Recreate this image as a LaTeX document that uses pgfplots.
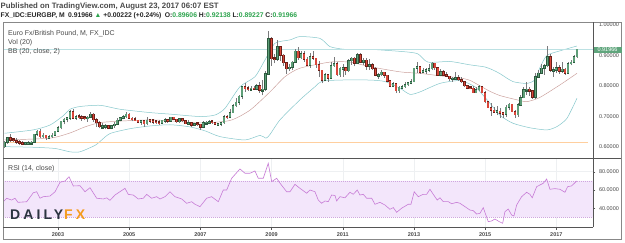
\documentclass[border=0pt]{standalone}
\usepackage{fontspec}
\setmainfont{Liberation Sans}
\usepackage{pgfplots}
\pgfplotsset{compat=1.18}
\usepgfplotslibrary{fillbetween}
\usepackage{pgfplotstable}
\definecolor{upfill}{HTML}{5E9E78}
\definecolor{upline}{HTML}{2C5A3E}
\definecolor{dnfill}{HTML}{D9473A}
\definecolor{dnline}{HTML}{6A2018}
\definecolor{wick}{HTML}{7A7A7C}
\definecolor{bbband}{HTML}{86C8CC}
\definecolor{bbfill}{HTML}{E3F2F3}
\definecolor{bbmid}{HTML}{C99C98}
\definecolor{rsiline}{HTML}{C77BD6}
\definecolor{rsifill}{HTML}{F3E6FB}
\definecolor{rsiedge}{HTML}{CFA6DE}
\definecolor{gridc}{HTML}{EEF0F2}
\definecolor{framec}{HTML}{555555}
\definecolor{txt}{HTML}{4A4A4A}
\definecolor{pricegreen}{HTML}{5FA57C}
\definecolor{hdrgreen}{HTML}{2DA44E}
\definecolor{dfxnavy}{HTML}{2B3440}
\definecolor{dfxorange}{HTML}{F39C1F}
\definecolor{levelorange}{HTML}{FFCF9E}

\pgfplotstableread{
x o h l c
2001.5000 0.6000 0.6190 0.5960 0.6140
2001.5833 0.6140 0.6330 0.6100 0.6300
2001.6667 0.6300 0.6400 0.6150 0.6220
2001.7500 0.6220 0.6290 0.6160 0.6200
2001.8333 0.6200 0.6270 0.6100 0.6150
2001.9167 0.6150 0.6220 0.6050 0.6120
2002.0000 0.6120 0.6200 0.6050 0.6080
2002.0833 0.6080 0.6160 0.6040 0.6120
2002.1667 0.6120 0.6180 0.6080 0.6130
2002.2500 0.6130 0.6190 0.6060 0.6150
2002.3333 0.6150 0.6430 0.6120 0.6400
2002.4167 0.6400 0.6560 0.6350 0.6500
2002.5000 0.6500 0.6580 0.6290 0.6320
2002.5833 0.6320 0.6440 0.6290 0.6380
2002.6667 0.6380 0.6390 0.6220 0.6300
2002.7500 0.6300 0.6380 0.6250 0.6330
2002.8333 0.6330 0.6450 0.6300 0.6380
2002.9167 0.6380 0.6530 0.6350 0.6510
2003.0000 0.6510 0.6670 0.6480 0.6620
2003.0833 0.6620 0.6850 0.6570 0.6830
2003.1667 0.6830 0.6950 0.6730 0.6900
2003.2500 0.6900 0.6960 0.6800 0.6930
2003.3333 0.6930 0.7220 0.6880 0.7140
2003.4167 0.7140 0.7240 0.6900 0.6930
2003.5000 0.6930 0.7040 0.6880 0.6990
2003.5833 0.6990 0.7070 0.6900 0.6980
2003.6667 0.6980 0.7030 0.6850 0.6940
2003.7500 0.6940 0.6990 0.6870 0.6925
2003.8333 0.6925 0.7010 0.6820 0.6960
2003.9167 0.6960 0.7130 0.6950 0.7060
2004.0000 0.7060 0.7090 0.6800 0.6890
2004.0833 0.6890 0.6940 0.6660 0.6780
2004.1667 0.6780 0.6830 0.6600 0.6660
2004.2500 0.6660 0.6780 0.6600 0.6680
2004.3333 0.6680 0.6750 0.6570 0.6690
2004.4167 0.6690 0.6720 0.6570 0.6610
2004.5000 0.6610 0.6700 0.6580 0.6690
2004.5833 0.6690 0.6800 0.6620 0.6740
2004.6667 0.6740 0.6930 0.6710 0.6870
2004.7500 0.6870 0.6980 0.6830 0.6950
2004.8333 0.6950 0.7030 0.6900 0.6980
2004.9167 0.6980 0.7130 0.6950 0.7070
2005.0000 0.7070 0.7090 0.6900 0.6930
2005.0833 0.6930 0.6960 0.6830 0.6880
2005.1667 0.6880 0.6970 0.6850 0.6870
2005.2500 0.6870 0.6890 0.6770 0.6800
2005.3333 0.6800 0.6880 0.6720 0.6850
2005.4167 0.6850 0.6860 0.6640 0.6750
2005.5000 0.6750 0.6960 0.6700 0.6860
2005.5833 0.6860 0.6900 0.6790 0.6830
2005.6667 0.6830 0.6860 0.6740 0.6810
2005.7500 0.6810 0.6840 0.6740 0.6790
2005.8333 0.6790 0.6860 0.6720 0.6770
2005.9167 0.6770 0.6880 0.6740 0.6860
2006.0000 0.6860 0.6930 0.6780 0.6880
2006.0833 0.6880 0.6900 0.6780 0.6840
2006.1667 0.6840 0.6990 0.6830 0.6960
2006.2500 0.6960 0.6990 0.6860 0.6900
2006.3333 0.6900 0.6920 0.6790 0.6820
2006.4167 0.6820 0.6930 0.6790 0.6920
2006.5000 0.6920 0.6940 0.6820 0.6850
2006.5833 0.6850 0.6870 0.6740 0.6760
2006.6667 0.6760 0.6860 0.6730 0.6790
2006.7500 0.6790 0.6800 0.6660 0.6700
2006.8333 0.6700 0.6780 0.6690 0.6740
2006.9167 0.6740 0.6790 0.6680 0.6730
2007.0000 0.6730 0.6750 0.6540 0.6640
2007.0833 0.6640 0.6830 0.6600 0.6780
2007.1667 0.6780 0.6850 0.6750 0.6800
2007.2500 0.6800 0.6860 0.6740 0.6810
2007.3333 0.6810 0.6860 0.6760 0.6790
2007.4167 0.6790 0.6800 0.6700 0.6740
2007.5000 0.6740 0.6790 0.6700 0.6760
2007.5833 0.6760 0.6820 0.6670 0.6780
2007.6667 0.6780 0.7030 0.6760 0.6990
2007.7500 0.6990 0.7040 0.6920 0.6960
2007.8333 0.6960 0.7250 0.6940 0.7120
2007.9167 0.7120 0.7390 0.7100 0.7340
2008.0000 0.7340 0.7600 0.7300 0.7460
2008.0833 0.7460 0.7700 0.7380 0.7650
2008.1667 0.7650 0.8000 0.7560 0.7960
2008.2500 0.7960 0.8100 0.7800 0.7910
2008.3333 0.7910 0.8010 0.7830 0.7900
2008.4167 0.7900 0.8010 0.7850 0.7920
2008.5000 0.7920 0.7980 0.7860 0.7880
2008.5833 0.7880 0.8050 0.7850 0.8000
2008.6667 0.8000 0.8140 0.7770 0.7860
2008.7500 0.7860 0.8190 0.7690 0.7880
2008.8333 0.7880 0.8480 0.7840 0.8390
2008.9167 0.8390 0.9800 0.8380 0.9550
2009.0000 0.9550 0.9620 0.8660 0.8890
2009.0833 0.8890 0.9060 0.8740 0.8870
2009.1667 0.8870 0.9520 0.8820 0.9290
2009.2500 0.9290 0.9300 0.8820 0.9010
2009.3333 0.9010 0.9060 0.8660 0.8760
2009.4167 0.8760 0.8800 0.8400 0.8560
2009.5000 0.8560 0.8720 0.8480 0.8610
2009.5833 0.8610 0.8820 0.8510 0.8780
2009.6667 0.8780 0.9220 0.8770 0.9140
2009.7500 0.9140 0.9290 0.8860 0.8920
2009.8333 0.8920 0.9130 0.8880 0.9050
2009.9167 0.9050 0.9140 0.8800 0.8880
2010.0000 0.8880 0.8950 0.8660 0.8680
2010.0833 0.8680 0.9080 0.8600 0.8960
2010.1667 0.8960 0.9160 0.8860 0.8900
2010.2500 0.8900 0.8910 0.8590 0.8690
2010.3333 0.8690 0.8820 0.8290 0.8510
2010.4167 0.8510 0.8530 0.8080 0.8180
2010.5000 0.8180 0.8430 0.8170 0.8360
2010.5833 0.8360 0.8390 0.8130 0.8250
2010.6667 0.8250 0.8770 0.8220 0.8660
2010.7500 0.8660 0.8940 0.8620 0.8720
2010.8333 0.8720 0.8800 0.8330 0.8370
2010.9167 0.8370 0.8620 0.8300 0.8580
2011.0000 0.8580 0.8720 0.8300 0.8590
2011.0833 0.8590 0.8620 0.8350 0.8490
2011.1667 0.8490 0.8880 0.8450 0.8830
2011.2500 0.8830 0.8960 0.8700 0.8910
2011.3333 0.8910 0.8950 0.8640 0.8740
2011.4167 0.8740 0.9080 0.8720 0.9020
2011.5000 0.9020 0.9080 0.8740 0.8780
2011.5833 0.8780 0.8930 0.8700 0.8840
2011.6667 0.8840 0.8930 0.8530 0.8640
2011.7500 0.8640 0.8890 0.8530 0.8690
2011.8333 0.8690 0.8750 0.8520 0.8560
2011.9167 0.8560 0.8610 0.8310 0.8340
2012.0000 0.8340 0.8430 0.8230 0.8370
2012.0833 0.8370 0.8510 0.8320 0.8450
2012.1667 0.8450 0.8470 0.8270 0.8340
2012.2500 0.8340 0.8350 0.8140 0.8160
2012.3333 0.8160 0.8200 0.7950 0.7980
2012.4167 0.7980 0.8140 0.7950 0.8070
2012.5000 0.8070 0.8080 0.7760 0.7840
2012.5833 0.7840 0.7980 0.7770 0.7950
2012.6667 0.7950 0.8030 0.7880 0.7970
2012.7500 0.7970 0.8140 0.7930 0.8040
2012.8333 0.8040 0.8130 0.7990 0.8100
2012.9167 0.8100 0.8230 0.8050 0.8130
2013.0000 0.8130 0.8600 0.8110 0.8580
2013.0833 0.8580 0.8770 0.8430 0.8620
2013.1667 0.8620 0.8630 0.8400 0.8450
2013.2500 0.8450 0.8600 0.8430 0.8480
2013.3333 0.8480 0.8570 0.8390 0.8530
2013.4167 0.8530 0.8720 0.8450 0.8560
2013.5000 0.8560 0.8770 0.8520 0.8740
2013.5833 0.8740 0.8760 0.8530 0.8600
2013.6667 0.8600 0.8610 0.8330 0.8350
2013.7500 0.8350 0.8560 0.8320 0.8470
2013.8333 0.8470 0.8510 0.8320 0.8340
2013.9167 0.8340 0.8450 0.8280 0.8310
2014.0000 0.8310 0.8330 0.8160 0.8240
2014.0833 0.8240 0.8300 0.8130 0.8250
2014.1667 0.8250 0.8440 0.8240 0.8270
2014.2500 0.8270 0.8340 0.8170 0.8200
2014.3333 0.8200 0.8290 0.8100 0.8140
2014.4167 0.8140 0.8170 0.7960 0.8000
2014.5000 0.8000 0.8010 0.7880 0.7930
2014.5833 0.7930 0.8010 0.7890 0.7920
2014.6667 0.7920 0.7990 0.7760 0.7780
2014.7500 0.7780 0.7960 0.7760 0.7870
2014.8333 0.7870 0.8030 0.7820 0.7960
2014.9167 0.7960 0.7970 0.7760 0.7780
2015.0000 0.7780 0.7840 0.7420 0.7470
2015.0833 0.7470 0.7490 0.7270 0.7280
2015.1667 0.7280 0.7420 0.7010 0.7200
2015.2500 0.7200 0.7320 0.7110 0.7140
2015.3333 0.7140 0.7330 0.7040 0.7170
2015.4167 0.7170 0.7260 0.6940 0.7100
2015.5000 0.7100 0.7150 0.6940 0.7060
2015.5833 0.7060 0.7380 0.6990 0.7300
2015.6667 0.7300 0.7450 0.7190 0.7390
2015.7500 0.7390 0.7410 0.7130 0.7150
2015.8333 0.7150 0.7190 0.6940 0.7050
2015.9167 0.7050 0.7420 0.6990 0.7370
2016.0000 0.7370 0.7700 0.7330 0.7610
2016.0833 0.7610 0.7960 0.7590 0.7870
2016.1667 0.7870 0.8120 0.7700 0.7880
2016.2500 0.7880 0.7950 0.7670 0.7830
2016.3333 0.7830 0.7850 0.7560 0.7630
2016.4167 0.7630 0.8410 0.7570 0.8290
2016.5000 0.8290 0.8520 0.8250 0.8420
2016.5833 0.8420 0.8720 0.8390 0.8580
2016.6667 0.8580 0.8720 0.8370 0.8660
2016.7500 0.8660 0.9300 0.8610 0.8950
2016.8333 0.8950 0.9050 0.8470 0.8510
2016.9167 0.8510 0.8630 0.8300 0.8520
2017.0000 0.8520 0.8790 0.8420 0.8600
2017.0833 0.8600 0.8690 0.8400 0.8480
2017.1667 0.8480 0.8790 0.8430 0.8540
2017.2500 0.8540 0.8600 0.8370 0.8420
2017.3333 0.8420 0.8790 0.8380 0.8730
2017.4167 0.8730 0.8850 0.8670 0.8780
2017.5000 0.8780 0.9010 0.8750 0.8960
2017.5833 0.8961 0.9214 0.8923 0.9197
}\candles

\pgfplotstableread{
x v
2001.500 0.644
2002.298 0.655
2002.775 0.671
2003.140 0.701
2003.337 0.723
2003.618 0.732
2004.180 0.736
2004.742 0.723
2005.584 0.712
2006.146 0.707
2006.989 0.699
2007.410 0.704
2007.691 0.726
2008.112 0.797
2008.534 0.830
2008.815 0.885
2009.096 0.940
2009.517 0.951
2009.798 0.962
2010.360 0.956
2010.640 0.929
2011.062 0.920
2011.764 0.920
2012.747 0.912
2013.112 0.905
2013.393 0.878
2014.011 0.880
2014.573 0.869
2014.994 0.862
2015.219 0.852
2015.416 0.840
2015.781 0.814
2016.174 0.808
2016.399 0.820
2016.539 0.860
2016.736 0.900
2017.101 0.915
2017.579 0.931
}\bbupper

\pgfplotstableread{
x v
2001.500 0.622
2002.775 0.628
2003.337 0.645
2003.758 0.665
2004.180 0.679
2004.742 0.684
2005.584 0.688
2006.146 0.685
2006.989 0.678
2007.831 0.686
2008.393 0.720
2008.955 0.780
2009.376 0.830
2009.798 0.858
2010.640 0.878
2011.202 0.878
2011.764 0.863
2012.607 0.846
2013.169 0.841
2013.730 0.833
2014.292 0.826
2014.573 0.818
2014.854 0.800
2015.135 0.782
2015.416 0.768
2015.893 0.754
2016.174 0.748
2016.539 0.762
2017.101 0.803
2017.579 0.841
}\bbmiddle

\pgfplotstableread{
x v
2001.500 0.600
2002.298 0.598
2002.916 0.594
2003.337 0.583
2003.618 0.583
2004.039 0.604
2004.180 0.617
2004.461 0.643
2005.022 0.659
2005.584 0.668
2006.146 0.672
2006.708 0.665
2007.129 0.652
2007.551 0.633
2008.253 0.622
2008.674 0.637
2008.843 0.628
2008.955 0.640
2009.236 0.688
2009.798 0.754
2010.219 0.797
2010.416 0.815
2010.921 0.819
2011.764 0.819
2012.185 0.814
2012.607 0.792
2012.888 0.772
2013.169 0.780
2013.730 0.808
2014.292 0.817
2014.713 0.797
2014.994 0.762
2015.135 0.743
2015.416 0.703
2015.781 0.677
2016.258 0.662
2016.736 0.655
2017.017 0.666
2017.298 0.693
2017.579 0.759
}\bblower

\pgfplotstableread{
x v
2001.463 47.2
2001.559 50.9
2001.699 49.0
2001.792 51.0
2001.876 46.5
2002.121 47.2
2002.306 57.0
2002.402 58.1
2002.494 51.0
2002.587 52.7
2002.775 53.4
2002.916 58.0
2003.056 68.4
2003.197 69.8
2003.309 74.5
2003.430 64.4
2003.618 64.7
2003.758 58.1
2003.899 62.5
2004.087 51.0
2004.272 50.2
2004.368 51.4
2004.461 48.7
2004.601 54.5
2004.882 61.8
2004.975 55.2
2005.115 54.5
2005.256 50.2
2005.396 51.0
2005.492 55.2
2005.632 51.0
2005.772 52.7
2005.865 50.2
2006.006 52.7
2006.146 58.1
2006.287 52.7
2006.475 50.2
2006.615 45.5
2006.756 47.2
2006.848 44.4
2006.989 41.8
2007.177 51.0
2007.317 52.7
2007.503 47.2
2007.643 60.0
2007.739 60.0
2007.879 72.8
2008.112 83.0
2008.253 78.3
2008.393 78.3
2008.534 80.8
2008.626 72.8
2008.767 72.8
2008.907 89.2
2009.003 69.1
2009.143 72.8
2009.236 67.5
2009.424 58.1
2009.517 58.1
2009.657 66.2
2009.798 61.8
2009.986 56.5
2010.079 60.0
2010.219 58.1
2010.312 49.0
2010.407 45.5
2010.500 48.0
2010.593 47.3
2010.688 54.5
2010.781 54.0
2010.829 48.0
2010.921 52.7
2011.062 51.5
2011.202 57.5
2011.295 55.3
2011.407 60.0
2011.483 54.5
2011.576 55.3
2011.671 51.0
2011.812 51.0
2011.904 44.4
2012.045 46.5
2012.185 43.6
2012.326 38.9
2012.419 40.8
2012.514 35.6
2012.654 40.1
2012.840 44.4
2012.916 44.4
2013.008 58.1
2013.121 52.7
2013.261 55.3
2013.357 55.3
2013.449 60.8
2013.542 55.3
2013.654 49.0
2013.730 51.5
2013.823 47.3
2013.963 47.3
2014.059 45.0
2014.199 46.5
2014.292 45.5
2014.433 41.8
2014.573 38.1
2014.666 37.4
2014.761 33.8
2014.854 34.5
2014.947 40.7
2015.087 25.4
2015.183 26.2
2015.275 28.3
2015.396 25.4
2015.492 23.6
2015.556 36.3
2015.649 39.2
2015.744 32.7
2015.809 31.6
2015.885 43.6
2016.025 52.7
2016.166 57.5
2016.258 55.3
2016.323 51.5
2016.447 63.6
2016.539 65.5
2016.632 67.3
2016.728 72.0
2016.820 60.8
2016.961 61.5
2017.101 60.8
2017.242 57.5
2017.317 63.6
2017.430 64.5
2017.570 69.8
}\rsi

\pgfplotsset{
  chartaxis/.style={
    scale only axis, width=590pt, anchor=south west,
    xmin=2001.455, xmax=2018.03,
    axis line style={draw=none},
    xtick={2003,2005,...,2017},
    xmajorgrids, ymajorgrids,
    grid style={gridc, line width=0.5pt},
    tick align=outside,
    major tick length=2.5pt,
    tick style={framec, line width=0.4pt},
    ytick pos=right, yticklabel pos=right,
    tick label style={font=\fontsize{5.5}{6}\selectfont, text=txt},
    /pgf/number format/assume math mode=true,
  },
}

\begin{document}
\begin{tikzpicture}[x=1pt,y=1pt]
\fill[white] (0,0) rectangle (625,242);

% ---------- price pane ----------
\begin{axis}[chartaxis, at={(3pt,83.5pt)}, height=136.5pt,
  ymin=0.561, ymax=1.0099,
  ytick={0.6,0.7,0.8,0.9,1.0},
  xticklabels={}, xtick pos=bottom, xtick style={draw=none},
  yticklabel style={/pgf/number format/.cd, fixed, fixed zerofill, precision=5},
  point meta min=0, point meta max=1,
]
\addplot[name path=up, draw=none, smooth, tension=0.4] table[x=x,y=v]{\bbupper};
\addplot[name path=lo, draw=none, smooth, tension=0.4] table[x=x,y=v]{\bblower};
\addplot[fill=bbfill, draw=none] fill between[of=up and lo];
\addplot[bbband, line width=0.5pt, smooth, tension=0.4] table[x=x,y=v]{\bbupper};
\addplot[bbband, line width=0.5pt, smooth, tension=0.4] table[x=x,y=v]{\bblower};
\addplot[bbmid, line width=0.45pt, smooth, tension=0.4] table[x=x,y=v]{\bbmiddle};
% horizontal level and last price line
\addplot[levelorange, line width=0.9pt] coordinates {(2001.455,0.6145) (2017.89,0.6145)};
\addplot[bbband!55, line width=0.4pt] coordinates {(2001.455,0.91966) (2018.03,0.91966)};
% wicks
\addplot[quiver={u=0, v=\thisrow{h}-\thisrow{l}, every arrow/.append style={wick, line width=0.5pt}}]
  table[x=x, y=l]{\candles};
% body outlines (colour mapped: 0 = down, 1 = up)
\addplot[colormap={darkud}{color(0)=(dnline) color(1)=(upline)},
  point meta=explicit,
  quiver={u=0, v=\thisrow{c}-\thisrow{o}, colored=mapped color,
    every arrow/.append style={line width=2.5pt, line cap=rect, shorten >=0.7pt, shorten <=0.7pt}}]
  table[x=x, y=o, meta expr={\thisrow{c}>\thisrow{o}}]{\candles};
% body fills
\addplot[colormap={lightud}{color(0)=(dnfill) color(1)=(upfill)},
  point meta=explicit,
  quiver={u=0, v=\thisrow{c}-\thisrow{o}, colored=mapped color,
    every arrow/.append style={line width=1.7pt}}]
  table[x=x, y=o, meta expr={\thisrow{c}>\thisrow{o}}]{\candles};
\end{axis}

% ---------- RSI pane ----------
\begin{axis}[chartaxis, at={(3pt,15pt)}, height=68.5pt,
  ymin=19.56, ymax=94.43,
  ytick={40,60,80},
  xtick pos=bottom,
  xticklabels={2003,2005,2007,2009,2011,2013,2015,2017},
  xticklabel style={font=\fontsize{5.5}{6}\selectfont\bfseries, text=txt},
  yticklabel style={/pgf/number format/.cd, fixed, fixed zerofill, precision=4},
]
\addplot[draw=none, fill=rsifill] coordinates {(2001.455,30) (2018.03,30) (2018.03,70) (2001.455,70) (2001.455,30)};
\addplot[rsiedge, line width=0.4pt, dash pattern=on 1pt off 1pt] coordinates {(2001.455,70) (2018.03,70)};
\addplot[rsiedge, line width=0.4pt, dash pattern=on 1pt off 1pt] coordinates {(2001.455,30) (2018.03,30)};
\addplot[rsiline, line width=0.6pt] table[x=x,y=v]{\rsi};
\end{axis}

% ---------- frame ----------
\draw[framec!70, line width=0.6pt] (3,220) rectangle (621,3);
\draw[framec, line width=0.6pt] (593,15) -- (593,220);
\draw[framec, line width=1.1pt] (3,83.5) -- (621,83.5);
\draw[framec, line width=0.6pt] (3,15) -- (593,15);

% last price tag
\node[fill=pricegreen, text=white, inner sep=0pt, minimum width=28pt, minimum height=6pt,
  font=\fontsize{5.5}{6}\selectfont] at (607.5,192.5) {0.91966};

% ---------- texts ----------
\node[anchor=west, inner sep=0pt, font=\fontsize{7.8}{8}\selectfont\bfseries, text=txt]
  at (0.5,236) {Published on TradingView.com, August 23, 2017 06:07 EST};
\node[anchor=west, inner sep=0pt, font=\fontsize{6.8}{8}\selectfont\bfseries, text=black!85]
  at (0.5,226.5) {FX\_IDC:EURGBP, M\enspace 0.91966 \textcolor{hdrgreen}{▲} +0.00222 (+0.24\%)\enspace O:\textcolor{hdrgreen}{0.89606} H:\textcolor{hdrgreen}{0.92138} L:\textcolor{hdrgreen}{0.89227} C:\textcolor{hdrgreen}{0.91966}};
\node[anchor=west, inner sep=0pt, font=\fontsize{7}{8}\selectfont, text=txt] at (8,208) {Euro Fx/British Pound, M, FX\_IDC};
\node[anchor=west, inner sep=0pt, font=\fontsize{7}{8}\selectfont, text=txt] at (8,199.3) {Vol (20)};
\node[anchor=west, inner sep=0pt, font=\fontsize{7}{8}\selectfont, text=txt] at (8,190.3) {BB (20, close, 2)};
\node[anchor=west, inner sep=0pt, font=\fontsize{7}{8}\selectfont, text=txt] at (8,73.5) {RSI (14, close)};
% DailyFX logo
\node[anchor=west, inner sep=0pt, font=\fontsize{14}{15}\selectfont\bfseries] at (10,27)
  {\addfontfeatures{LetterSpace=22}\textcolor{dfxnavy}{DAILY}\hspace{1pt}\textcolor{dfxorange}{FX}};
\end{tikzpicture}
\end{document}
